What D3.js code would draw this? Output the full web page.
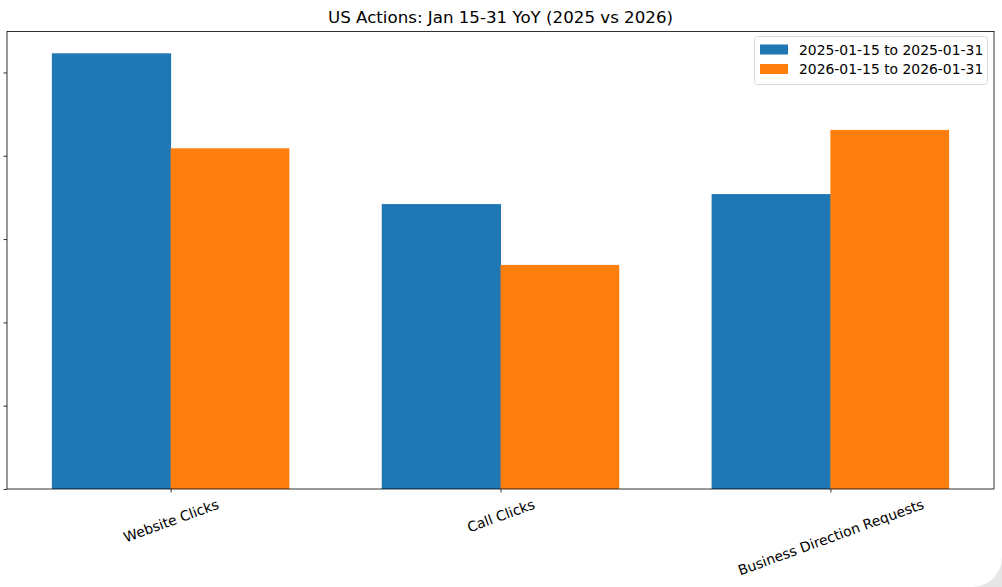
<!DOCTYPE html>
<html><head><meta charset="utf-8">
<script src="https://cdn.jsdelivr.net/npm/d3@7/dist/d3.min.js"></script>
<style>html,body{margin:0;padding:0;background:#fff;overflow:hidden}svg{display:block;font-family:"DejaVu Sans",sans-serif}</style>
</head><body>
<script>
const categories = ["Website Clicks", "Call Clicks", "Business Direction Requests"];
const seriesNames = ["2025-01-15 to 2025-01-31", "2026-01-15 to 2026-01-31"];
const values2025 = [261.5, 171, 177];
const values2026 = [204.5, 134.5, 215.5];
const yTicks = [0, 50, 100, 150, 200, 250];
const colors = ["#1f77b4", "#ff7f0e"];
const title = "US Actions: Jan 15-31 YoY (2025 vs 2026)";

const W = 1002, H = 587;
const L = 7, R = 994, T = 31.5, B = 489;
const svg = d3.select("body").append("svg").attr("width", W).attr("height", H);
svg.append("rect").attr("width", W).attr("height", H).attr("fill", "#fff");

const bw = 0.36;
const x = d3.scaleLinear().domain([-bw - 0.05*(2+2*bw), 2 + bw + 0.05*(2+2*bw)]).range([L, R]);
const maxV = d3.max(values2025.concat(values2026));
const y = d3.scaleLinear().domain([0, maxV*1.05]).range([B, T]);

const series = [values2025, values2026];
series.forEach((vals, s) => {
  svg.append("g").selectAll("rect").data(vals).join("rect")
    .attr("x", (d, i) => x(i + (s === 0 ? -bw : 0)))
    .attr("width", x(bw) - x(0) + (s === 0 ? 0.5 : 0))
    .attr("y", d => y(d))
    .attr("height", d => y(0) - y(d))
    .attr("fill", colors[s]);
});

// y axis (tick labels fall off the left edge, as in the reference)
const yAxis = d3.axisLeft(y).tickValues(yTicks).tickSize(3.5).tickPadding(3.5).tickFormat(d3.format("d"));
const gy = svg.append("g").attr("transform", `translate(${L},0)`).call(yAxis);
gy.select(".domain").remove();
gy.selectAll("line").attr("stroke", "#000").attr("stroke-width", 0.8);
gy.selectAll("text").attr("font-size", 13.9).attr("fill", "#000").attr("font-family", "DejaVu Sans");

// x axis
const xAxis = d3.axisBottom(x).tickValues([0,1,2]).tickFormat(i => categories[i]).tickSize(3.5).tickPadding(3.5);
const gx = svg.append("g").attr("transform", `translate(0,${B})`).call(xAxis);
gx.select(".domain").remove();
gx.selectAll("line").attr("stroke", "#000").attr("stroke-width", 0.8);
const ang = 20 * Math.PI / 180;
gx.selectAll("text").attr("font-size", 13.9).attr("fill", "#000").attr("font-family", "DejaVu Sans")
  .attr("text-anchor", "middle").attr("dy", null).attr("y", 0)
  .attr("dominant-baseline", "central")
  .attr("transform", function() {
    const w = this.getComputedTextLength();
    const h = 16;
    const bh = w * Math.sin(ang) + h * Math.cos(ang);
    return `translate(0,${7 + bh/2}) rotate(-20)`;
  });

// frame
svg.append("rect").attr("x", L).attr("y", T).attr("width", R - L).attr("height", B - T)
  .attr("fill", "none").attr("stroke", "#000").attr("stroke-width", 0.8);

// title
svg.append("text").attr("x", (L + R)/2).attr("y", 22.5).attr("text-anchor", "middle")
  .attr("font-size", 16.67).attr("fill", "#000").text(title);

// legend
const lg = svg.append("g").attr("transform", "translate(754,36)");
lg.append("rect").attr("x", 0.5).attr("y", 0.5).attr("width", 233).attr("height", 48).attr("rx", 3)
  .attr("fill", "#fff").attr("fill-opacity", 0.8).attr("stroke", "#d0d0d0").attr("stroke-width", 0.8);
seriesNames.forEach((n, i) => {
  lg.append("rect").attr("x", 6).attr("y", 8.5 + i*19.5).attr("width", 28).attr("height", 10).attr("fill", colors[i]);
  lg.append("text").attr("x", 45).attr("y", 13.5 + i*19.5).attr("dominant-baseline", "central")
    .attr("font-size", 13.9).attr("fill", "#000").text(n);
});

// corner artifact
svg.append("path").attr("d", `M${W},${H-30} L${W},${H} L${W-30},${H} A30,30 0 0 0 ${W},${H-30} Z`).attr("fill", "#e6e6e6");
</script>
</body></html>
